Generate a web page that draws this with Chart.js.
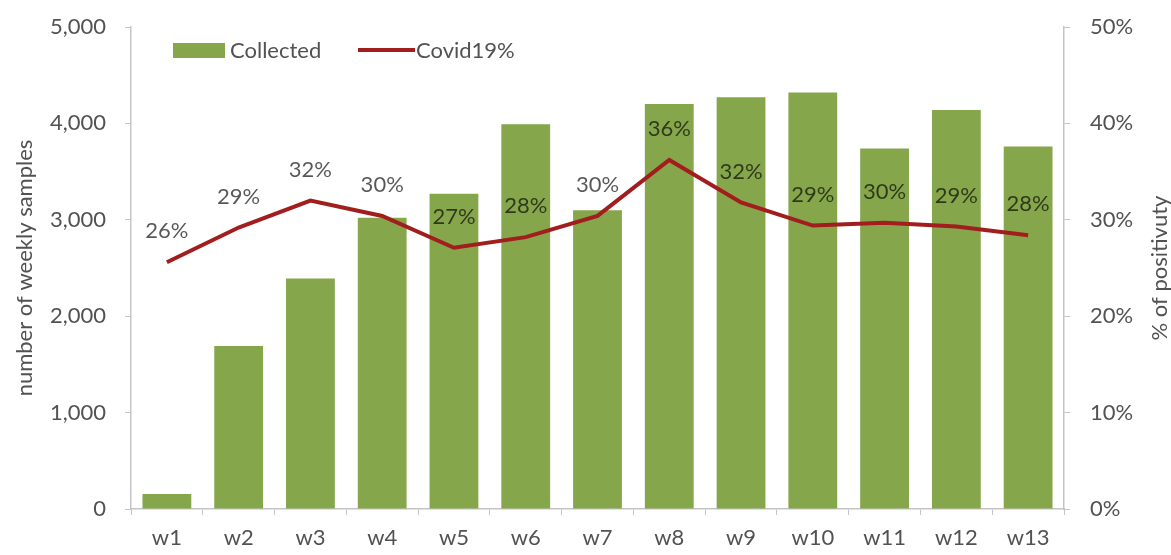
<!DOCTYPE html>
<html>
<head>
<meta charset="utf-8">
<script src="https://cdn.jsdelivr.net/npm/chart.js@4/dist/chart.umd.min.js"></script>
<style>
  html, body { margin: 0; padding: 0; background: #fff; }
  #wrap { width: 1171px; height: 555px; }
</style>
</head>
<body>
<div id="wrap"><canvas id="myChart" width="1171" height="555"></canvas></div>
<script>
// data
var weeks = ['w1', 'w2', 'w3', 'w4', 'w5', 'w6', 'w7', 'w8', 'w9', 'w10', 'w11', 'w12', 'w13'];
var collected = [155, 1690, 2390, 3020, 3270, 3990, 3100, 4200, 4270, 4320, 3740, 4140, 3760];
var positivity = [25.6, 29.2, 32.0, 30.4, 27.1, 28.2, 30.4, 36.2, 31.8, 29.4, 29.7, 29.3, 28.4];
var countTicks = [0, 1000, 2000, 3000, 4000, 5000];
var pctTicks = [0, 10, 20, 30, 40, 50];

var FONT = 'Lato, "Open Sans", sans-serif';
var GREEN = '#86a64b';
var RED = '#a21d1d';
var TEXT = '#525252';
var AXIS = '#c3c3c8';

// labels above the line, legend and the two axis titles
var extras = {
    id: 'extras',
    afterDatasetsDraw: function (chart) {
        var ctx = chart.ctx;
        var meta = chart.getDatasetMeta(1);
        ctx.save();
        ctx.font = '22px ' + FONT;
        ctx.textAlign = 'center';
        ctx.textBaseline = 'middle';
        ctx.fillStyle = 'rgba(0,0,0,0.66)';
        meta.data.forEach(function (pt, i) {
            ctx.fillText(Math.round(positivity[i]) + '%', pt.x, pt.y - 31);
        });
        ctx.restore();
    },
    afterDraw: function (chart) {
        var ctx = chart.ctx;
        var area = chart.chartArea;
        var midY = (area.top + area.bottom) / 2;
        ctx.save();
        ctx.font = '22px ' + FONT;
        ctx.fillStyle = TEXT;
        ctx.textBaseline = 'middle';

        // legend
        ctx.fillStyle = GREEN;
        ctx.fillRect(173, 43, 52, 15);
        ctx.fillStyle = TEXT;
        ctx.textAlign = 'left';
        ctx.fillText('Collected', 230, 51);
        ctx.strokeStyle = RED;
        ctx.lineWidth = 4;
        ctx.beginPath();
        ctx.moveTo(358, 50);
        ctx.lineTo(415, 50);
        ctx.stroke();
        ctx.fillText('Covid19%', 416, 51);

        // axis titles, both read bottom to top
        ctx.textAlign = 'center';
        ctx.translate(25, midY);
        ctx.rotate(-Math.PI / 2);
        ctx.fillText('number of weekly samples', 0, 0);
        ctx.rotate(Math.PI / 2);
        ctx.translate(1160 - 25, 0);
        ctx.rotate(-Math.PI / 2);
        ctx.fillText('% of positivuty', 0, 0);
        ctx.restore();
    }
};

// fixed box sizes so the plot area lands where it is in the picture
function fixWidth(w) {
    return function (scale) {
        scale.width = w;
        scale.paddingTop = 0;
        scale.paddingBottom = 0;
    };
}

var ctx = document.getElementById('myChart').getContext('2d');
var myChart = new Chart(ctx, {
    type: 'bar',
    data: {
        labels: weeks,
        datasets: [{
            type: 'bar',
            label: 'Collected',
            data: collected,
            backgroundColor: GREEN,
            yAxisID: 'y',
            categoryPercentage: 1,
            barPercentage: 0.68,
            order: 2
        }, {
            type: 'line',
            label: 'Covid19%',
            data: positivity,
            borderColor: RED,
            borderWidth: 4,
            pointRadius: 0,
            tension: 0,
            yAxisID: 'y1',
            order: 1
        }]
    },
    options: {
        responsive: false,
        animation: false,
        layout: { padding: { top: 27, left: 0, right: 0, bottom: 0 } },
        plugins: {
            legend: { display: false },
            tooltip: { enabled: false }
        },
        scales: {
            x: {
                grid: { drawOnChartArea: false, tickLength: 6, color: AXIS, offset: true },
                border: { color: AXIS, width: 1.5 },
                ticks: { color: TEXT, font: { family: FONT, size: 22 }, padding: 10, maxRotation: 0 },
                afterFit: function (scale) {
                    scale.height = 46;
                    scale.paddingLeft = 0;
                    scale.paddingRight = 0;
                }
            },
            y: {
                position: 'left',
                min: 0,
                max: 5000,
                afterBuildTicks: function (scale) {
                    scale.ticks = countTicks.map(function (v) { return { value: v }; });
                },
                grid: { drawOnChartArea: false, tickLength: 6, color: AXIS },
                border: { color: AXIS, width: 1.5 },
                ticks: {
                    color: TEXT,
                    font: { family: FONT, size: 22 },
                    padding: 19,
                    callback: function (v) { return v.toLocaleString('en-US'); }
                },
                afterFit: fixWidth(131)
            },
            y1: {
                position: 'right',
                min: 0,
                max: 50,
                afterBuildTicks: function (scale) {
                    scale.ticks = pctTicks.map(function (v) { return { value: v }; });
                },
                grid: { drawOnChartArea: false, tickLength: 6, color: AXIS },
                border: { color: AXIS, width: 1.5 },
                ticks: {
                    color: TEXT,
                    font: { family: FONT, size: 22 },
                    padding: 20,
                    callback: function (v) { return v + '%'; }
                },
                afterFit: fixWidth(107)
            }
        }
    },
    plugins: [extras]
});
</script>
</body>
</html>
